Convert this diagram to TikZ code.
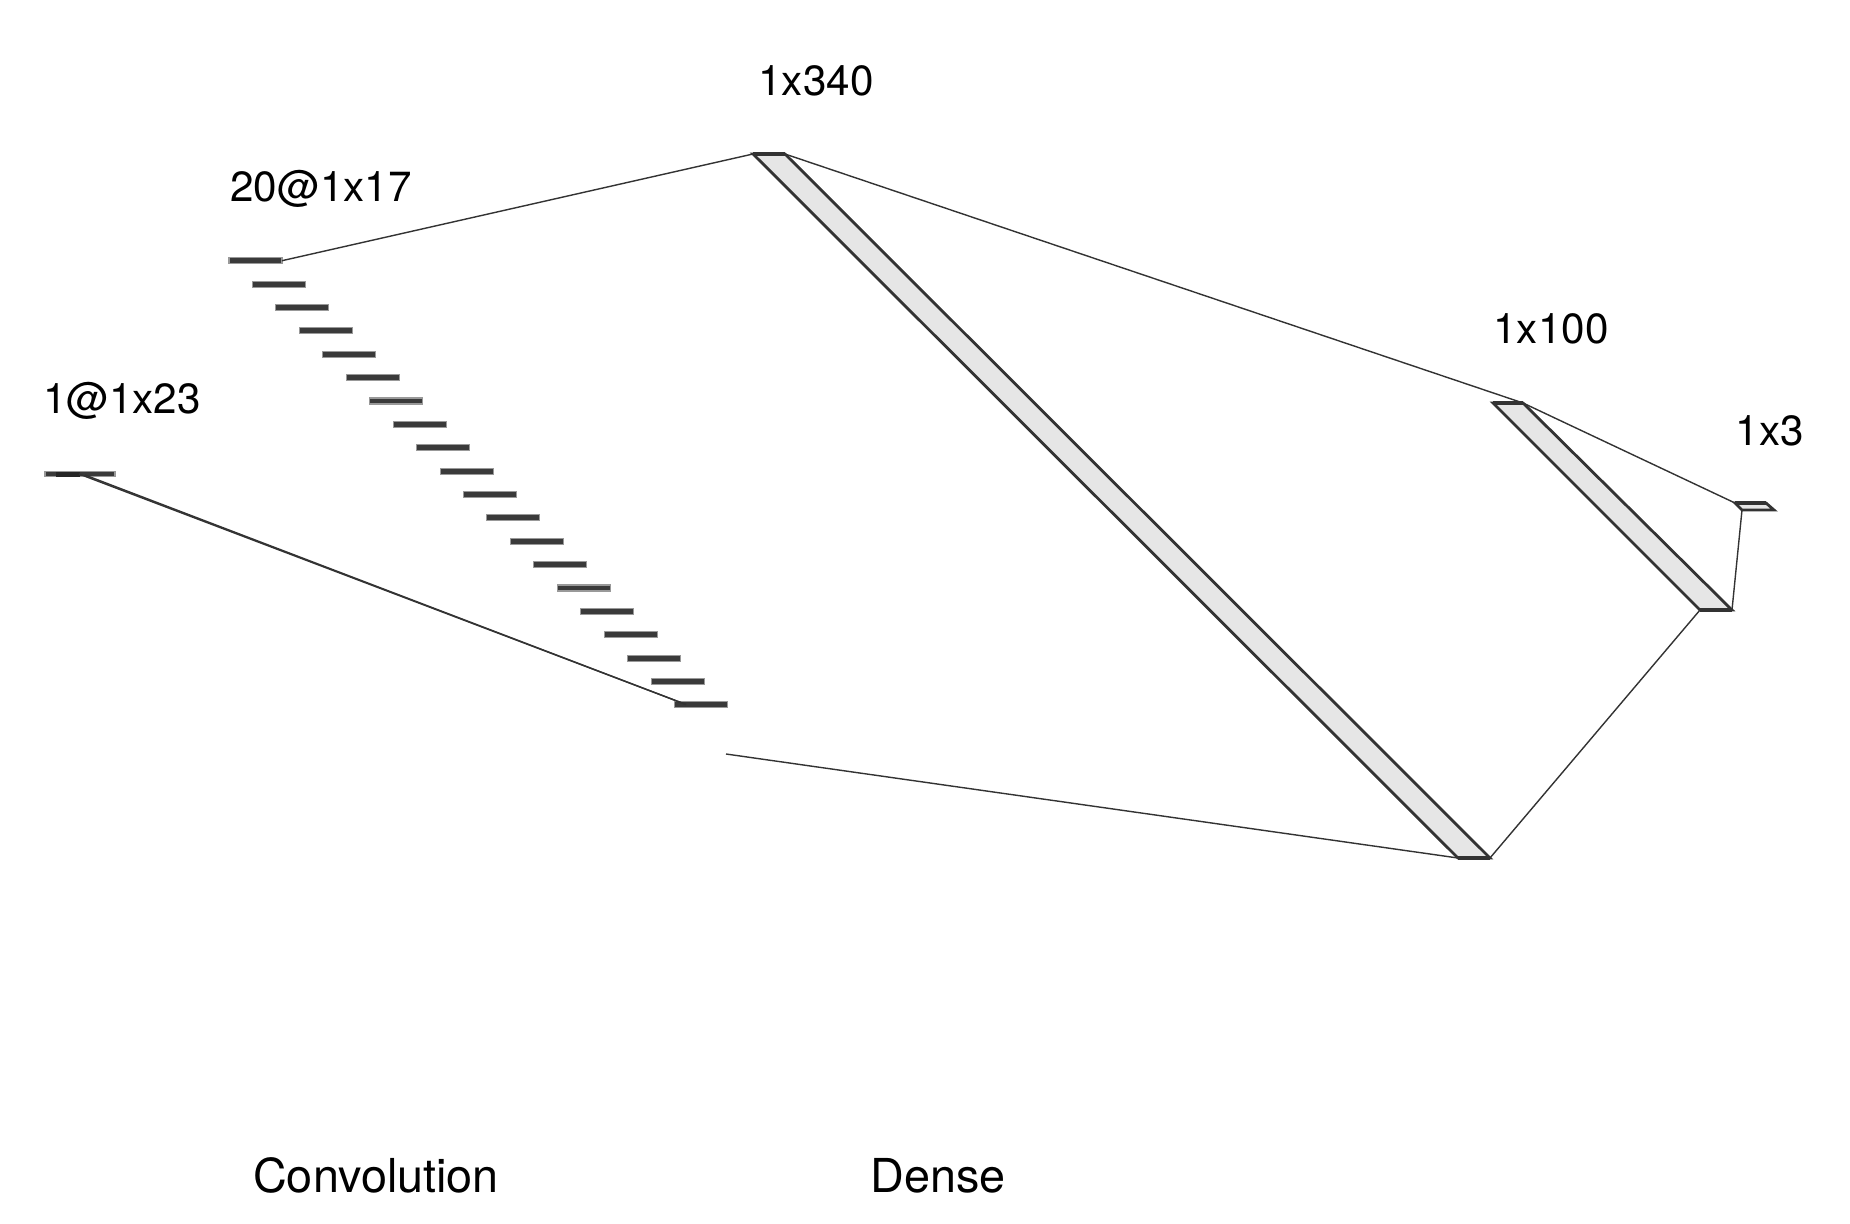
\documentclass[tikz,border=0pt]{standalone}
\usepackage{fontspec}
\setmainfont{TeX Gyre Heros}
\usepackage{tikz}
\usepackage{xcolor}
\definecolor{edgegray}{HTML}{333333}
\definecolor{facegray}{HTML}{E6E6E6}
\definecolor{bargray}{HTML}{3A3A3A}

\tikzset{
  layer/.style={draw=edgegray, fill=facegray, line width=0.8pt, line join=miter},
  layertop/.style={draw=edgegray, line width=1.3pt},
  conn/.style={draw=edgegray, line width=0.4pt},
  convbar/.style={draw=gray!80, fill=bargray, line width=0.3pt},
  lbl/.style={anchor=base, font=\fontsize{12}{14}\selectfont, text=black, inner sep=0pt},
  caption/.style={lbl, font=\fontsize{13.3}{15}\selectfont}
}

\begin{document}
\begin{tikzpicture}[x=0.01cm, y=-0.01cm]
  \useasboundingbox (0,0) rectangle (1850,1224);
  % input: 1@1x23
  \draw[convbar] (45,471.5) rectangle (115,476.5);
  \fill[black!85] (56,471.5) rectangle (80,476.5);
  \coordinate (in) at (79,474);
  \coordinate (in2) at (85,475);
  % convolution: 20 thin bars
  \foreach \i in {0,...,19} {
    \draw[convbar] (229+23.45*\i,257.7+23.38*\i) rectangle (282+23.45*\i,263.7+23.38*\i);
    \coordinate (bar\i) at (282+23.45*\i,260.7+23.38*\i);
  }
  \coordinate (barin) at (686,704.5);
  \coordinate (convbot) at (726,754);
  % dense: 1x340
  \coordinate (dA) at (753,154);
  \coordinate (dB) at (785,154);
  \coordinate (dC) at (1490,858);
  \coordinate (dD) at (1458,858);
  \draw[layer] (dA) -- (dB) -- (dC) -- (dD) -- cycle;
  \draw[layertop] (dA) -- (dB);
  \draw[layertop] (dD) -- (dC);
  % dense: 1x100
  \coordinate (eA) at (1493,403);
  \coordinate (eB) at (1523,403);
  \coordinate (eC) at (1732,610);
  \coordinate (eD) at (1700,610);
  \draw[layer] (eA) -- (eB) -- (eC) -- (eD) -- cycle;
  \draw[layertop] (eA) -- (eB);
  \draw[layertop] (eD) -- (eC);
  % output: 1x3
  \coordinate (oA) at (1735,503);
  \coordinate (oB) at (1766,503);
  \coordinate (oC) at (1774,510);
  \coordinate (oD) at (1742,510);
  \draw[layer] (oA) -- (oB) -- (oC) -- (oD) -- cycle;
  \draw[layertop] (oA) -- (oB);
  % connections
  \draw[conn] (in) -- (barin);
  \draw[conn] (in2) -- (barin);
  \draw[conn] (bar0) -- (dA);
  \draw[conn] (convbot) -- (dD);
  \draw[conn] (dB) -- (eB);
  \draw[conn] (dC) -- (eD);
  \draw[conn] (eB) -- (oA);
  \draw[conn] (eC) -- (oD);
  % labels
  \node[lbl] (l-in) at (122,413) {1@1x23};
  \node[lbl] (l-conv) at (321,201) {20@1x17};
  \node[lbl] (l-d1) at (816,96) {1x340};
  \node[lbl] (l-d2) at (1551,343) {1x100};
  \node[lbl] (l-out) at (1770,445) {1x3};
  \node[caption] (t-conv) at (376,1192) {Convolution};
  \node[caption] (t-dense) at (938,1192) {Dense};
\end{tikzpicture}
\end{document}
